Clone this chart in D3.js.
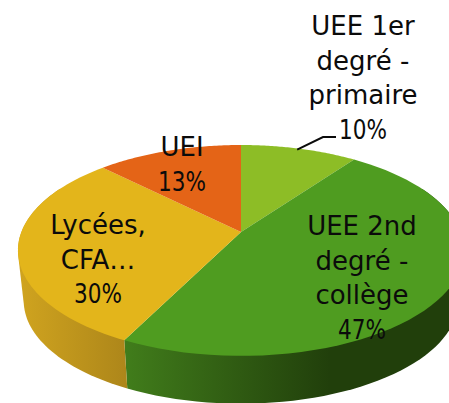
<!DOCTYPE html>
<html><head><meta charset="utf-8">
<script src="https://cdn.jsdelivr.net/npm/d3@7"></script>
<style>html,body{margin:0;padding:0;background:#fff;overflow:hidden}svg{display:block}text{font-family:"DejaVu Sans",sans-serif;font-size:26px;fill:#0b0b0b;text-anchor:middle}</style>
</head><body><svg id="c" width="449" height="403"></svg>
<script>
const categories = ["UEE 1er degré - primaire", "UEE 2nd degré - collège", "Lycées, CFA…", "UEI"];
const values = [10, 47.4, 30.1, 12.5];
const labelLines = [["UEE 1er","degré -","primaire","10%"],["UEE 2nd","degré -","collège","47%"],["Lycées,","CFA…","30%"],["UEI","13%"]];

const topColors = ["#8dbd26","#4f9c20","#e3b51b","#e46417"];
const sideStops = [["#8dbd26","#8dbd26"],["#417d1b","#213f0b"],["#d0a41f","#ad861a"],["#e46417","#e46417"]];
const labelPos = [{x:363,y:35},{x:362,y:235},{x:98,y:234},{x:182,y:156}];
const lineGap = 34.5;

const svg = d3.select("#c");
const cx = 241, cy = 232, A = 219.6, B = 102.2, k = 0.175;
const sx = d3.scaleLinear().domain([-1,1]).range([cx-A,cx+A]);
const sy = d3.scaleLinear().domain([-1,1]).range([cy-B,cy+B]);
// perspective projection of a point on the unit disc (t measured from 12 o'clock, clockwise)
function proj(t, r=1, shrink=1, drop=0){
  const X = r*Math.sin(t), Y = -r*Math.cos(t), w = 1-k*Y;
  return [cx + (sx(X/w)-cx)*shrink, cy + drop + (sy(Y/w)-cy)*shrink];
}
const pie = d3.pie().sort(null).value(d=>d)(values);
const line = d3.line();
const shrink = 0.974, drop = 51;
const defs = svg.append("defs");
sideStops.forEach((s,i)=>{
  const g = defs.append("linearGradient").attr("id","g"+i).attr("gradientUnits","userSpaceOnUse");
  const bounds = i===2 ? [18,127] : [124,330];
  g.attr("x1",bounds[0]).attr("x2",bounds[1]).attr("y1",0).attr("y2",0);
  g.append("stop").attr("offset",0).attr("stop-color",s[0]);
  g.append("stop").attr("offset",1).attr("stop-color",s[1]);
});
function samples(a,b){ return d3.range(0,61).map(i=>a+(b-a)*i/60); }
const lo = Math.PI*0.35, hi = Math.PI*1.65;
// side walls: convex hull of the top and bottom rims, so the silhouette is a straight tangent
pie.forEach((d,i)=>{
  const a = Math.max(d.startAngle,lo), b = Math.min(d.endAngle,hi);
  if (b<=a) return;
  const ts = samples(a,b);
  const hull = d3.polygonHull(ts.map(t=>proj(t)).concat(ts.map(t=>proj(t,1,shrink,drop))));
  svg.append("path").attr("d",line(hull)+"Z").attr("fill",`url(#g${i})`);
});
// top faces
pie.forEach((d,i)=>{
  const pts = [[cx,cy]].concat(samples(d.startAngle,d.endAngle).map(t=>proj(t)));
  svg.append("path").attr("d",line(pts)+"Z").attr("fill",topColors[i]);
});
// leader line for first slice
const lead = proj(pie[0].startAngle + (pie[0].endAngle-pie[0].startAngle)*0.5);
svg.append("path").attr("d",line([[lead[0]-2,lead[1]+1],[323,137],[336,137]]))
  .attr("fill","none").attr("stroke","#0b0b0b").attr("stroke-width",2);
// labels
labelLines.forEach((ls,i)=>{
  ls.forEach((l,j)=>{
    const t = svg.append("text").attr("x",labelPos[i].x).attr("y",labelPos[i].y+j*lineGap).text(l);
    if (l.endsWith("%")) t.attr("textLength",48).attr("lengthAdjust","spacingAndGlyphs");
  });
});
</script></body></html>
